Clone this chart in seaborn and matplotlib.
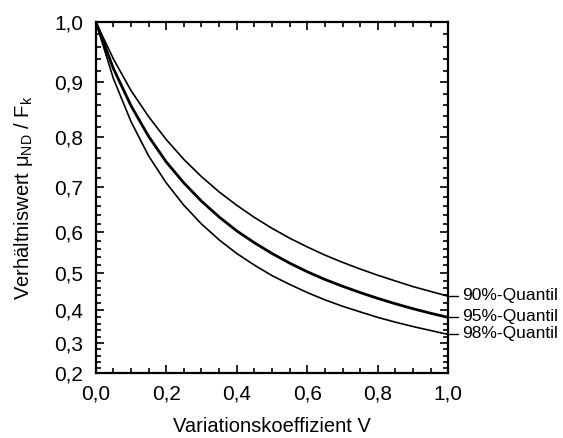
import numpy as np
import pandas as pd
import matplotlib
matplotlib.use("Agg")
import matplotlib.pyplot as plt
from matplotlib.ticker import MultipleLocator, FuncFormatter, FixedLocator
import seaborn as sns

# ---- data ----
V = [0.00, 0.05, 0.10, 0.15, 0.20, 0.25, 0.30, 0.35, 0.40, 0.45, 0.50,
     0.55, 0.60, 0.65, 0.70, 0.75, 0.80, 0.85, 0.90, 0.95, 1.00]
q90 = [1.000, 0.940, 0.886, 0.839, 0.796, 0.757, 0.722, 0.690, 0.661, 0.634, 0.609,
       0.586, 0.565, 0.545, 0.527, 0.510, 0.494, 0.479, 0.464, 0.451, 0.438]
q95 = [1.000, 0.924, 0.859, 0.802, 0.752, 0.709, 0.670, 0.635, 0.603, 0.575, 0.549,
       0.525, 0.503, 0.483, 0.465, 0.448, 0.432, 0.417, 0.403, 0.390, 0.378]
q98 = [1.000, 0.907, 0.830, 0.764, 0.709, 0.661, 0.619, 0.582, 0.549, 0.520, 0.493,
       0.470, 0.448, 0.428, 0.410, 0.394, 0.378, 0.364, 0.351, 0.339, 0.327]
series_labels = ["90%-Quantil", "95%-Quantil", "98%-Quantil"]
x_ticks = [0.0, 0.2, 0.4, 0.6, 0.8, 1.0]
y_ticks = [0.2, 0.3, 0.4, 0.5, 0.6, 0.7, 0.8, 0.9, 1.0]
x_label = "Variationskoeffizient V"
y_label = r"Verhältniswert μ$_{\mathrm{ND}}$ / F$_{\mathrm{k}}$"

sns.set_theme(style="white")
plt.rcParams["font.family"] = ["Liberation Sans", "DejaVu Sans"]
plt.rcParams["mathtext.fontset"] = "custom"
plt.rcParams["mathtext.rm"] = "Liberation Sans"
plt.rcParams["mathtext.default"] = "regular"

df = pd.concat([
    pd.DataFrame({"V": V, "ratio": vals, "Quantil": lab})
    for vals, lab in zip([q90, q95, q98], series_labels)
])

fig = plt.figure(figsize=(5.63, 4.38), dpi=100)
ax = fig.add_axes([0.170, 0.1477, 0.6263, 0.8028])
ax.set_yscale("function", functions=(np.exp, np.log))

widths = {"90%-Quantil": 1.2, "95%-Quantil": 2.0, "98%-Quantil": 1.2}
for lab in series_labels:
    sub = df[df["Quantil"] == lab]
    sns.lineplot(data=sub, x="V", y="ratio", ax=ax, color="black",
                 linewidth=widths[lab], legend=False, estimator=None, sort=False)

ax.set_xlim(0, 1)
ax.set_ylim(0.2, 1.0)
ax.xaxis.set_major_locator(FixedLocator(x_ticks))
ax.xaxis.set_minor_locator(MultipleLocator(0.05))
ax.yaxis.set_major_locator(FixedLocator(y_ticks))
ax.yaxis.set_minor_locator(FixedLocator(np.arange(0.2, 1.001, 0.02)))
comma = FuncFormatter(lambda v, p: f"{v:.1f}".replace(".", ","))
ax.xaxis.set_major_formatter(comma)
ax.yaxis.set_major_formatter(comma)

ax.tick_params(which="both", direction="in", top=True, right=True,
               bottom=True, left=True, color="black", width=1.2)
ax.tick_params(which="major", length=6, labelsize=15, labelcolor="black")
ax.tick_params(which="minor", length=3.5)
ax.tick_params(axis="y", which="major", pad=9)
ax.tick_params(axis="x", which="major", pad=8)
for s in ax.spines.values():
    s.set_visible(True)
    s.set_color("black")
    s.set_linewidth(1.6)

ax.set_xlabel(x_label, fontsize=14.5, color="black", labelpad=10)
ax.set_ylabel(y_label, fontsize=14.5, color="black", labelpad=14)

# labels at right with leader lines
ends = [q90[-1], q95[-1], q98[-1]]
for lab, yv in zip(series_labels, ends):
    ax.plot([1.0, 1.028], [yv, yv], color="black", lw=1.0, clip_on=False)
    ax.annotate(lab, xy=(1.0, yv), xytext=(14, 1), textcoords="offset pixels",
                va="center", ha="left", fontsize=12.5, color="black",
                annotation_clip=False)

fig.savefig("out.png", dpi=100)
